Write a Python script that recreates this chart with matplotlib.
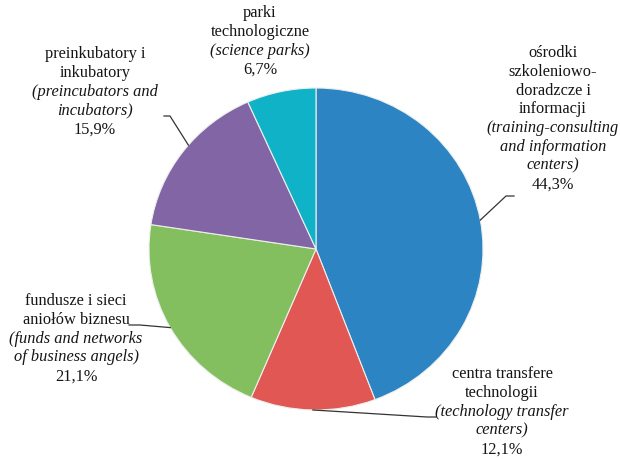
import numpy as np
import matplotlib.pyplot as plt

# shares of institutions, clockwise from 12 o'clock
names_pl = ["ośrodki\nszkoleniowo-\ndoradzcze i\ninformacji",
            "centra transfere\ntechnologii",
            "fundusze i sieci\naniołów biznesu",
            "preinkubatory i\ninkubatory",
            "parki\ntechnologiczne"]
names_en = ["(training-consulting\nand information\ncenters)",
            "(technology transfer\ncenters)",
            "(funds and networks\nof business angels)",
            "(preincubators and\nincubators)",
            "(science parks)"]
shares = [44.3, 12.1, 21.1, 15.9, 6.7]
colors = ["#2c84c3", "#e05753", "#83be5f", "#8165a5", "#10b2c8"]

# layout in pixels of the 620x459 picture
CX, CY, RX, RY = 316, 249, 167, 161
label_pos = [(553, 53), (502, 374), (76, 301), (95, 54), (260, 13)]
leader_start = [[(514, 196), (506, 196)], [(436, 417), (427, 417)],
                [(129, 325), (140, 325)], [(164, 116), (170, 116)], None]
leader_frac = [0.5, 0.5, 0.5, 0.55, 0.5]
LINE = 18.8


def px(x, y):
    return (x - CX) / RX, (CY - y) / RY


fig = plt.figure(figsize=(6.2, 4.59), dpi=100)
ax = fig.add_axes([0, 0, 1, 1])
wedges, _ = ax.pie(shares, colors=colors, startangle=90, counterclock=False,
                   radius=1, center=(0, 0),
                   wedgeprops=dict(edgecolor="#eeeeee", linewidth=0.8))
ax.set_aspect("auto")
ax.set_xlim(px(0, 0)[0], px(620, 0)[0])
ax.set_ylim(px(0, 459)[1], px(0, 0)[1])
ax.axis("off")

font = dict(family="Liberation Serif", fontsize=11.8, color="#151515",
            ha="center", va="center")
for i, w in enumerate(wedges):
    lines = [(s, "normal") for s in names_pl[i].split("\n")]
    lines += [(s, "italic") for s in names_en[i].split("\n")]
    lines.append((f"{shares[i]:.1f}".replace(".", ",") + "%", "normal"))
    x0, y0 = label_pos[i]
    for k, (s, st) in enumerate(lines):
        ax.text(*px(x0, y0 + k * LINE), s, style=st, **font)

    if leader_start[i] is not None:
        ang = np.deg2rad(w.theta2 + leader_frac[i] * (w.theta1 - w.theta2))
        pts = [px(*p) for p in leader_start[i]]
        pts.append((np.cos(ang), np.sin(ang)))
        xs, ys = zip(*pts)
        ax.plot(xs, ys, color="#333333", lw=0.9)

fig.savefig("out.png", dpi=100)
